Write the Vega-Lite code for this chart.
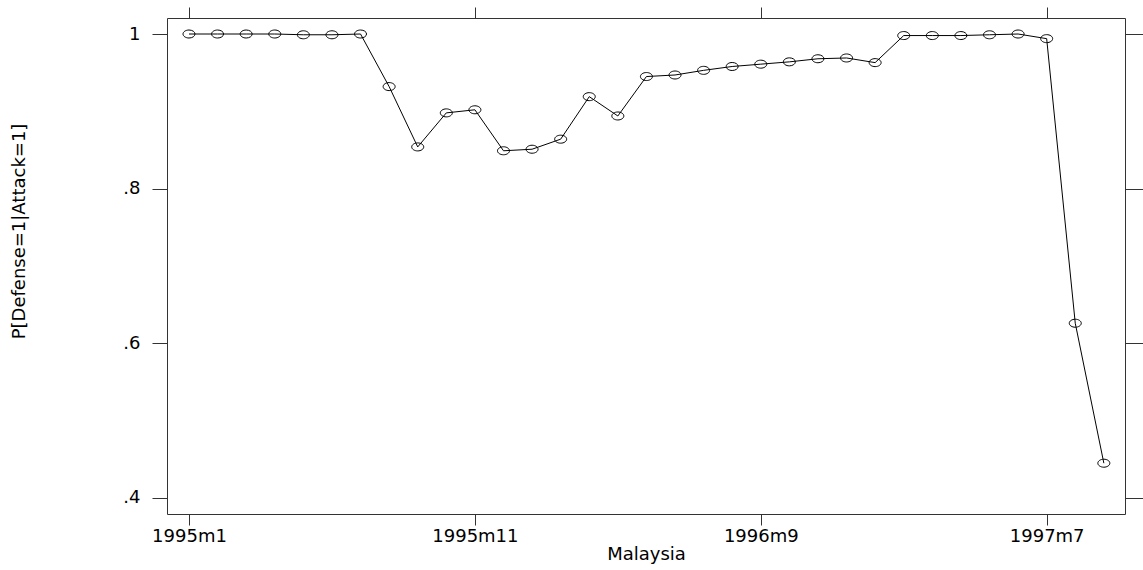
{
  "$schema": "https://vega.github.io/schema/vega-lite/v6.json",
  "autosize": "none",
  "width": 958,
  "height": 496,
  "padding": {"left": 167, "top": 18, "right": 18, "bottom": 56},
  "background": "white",
  "config": {
    "view": {"stroke": "#333", "strokeWidth": 1},
    "font": "DejaVu Sans",
    "axis": {
      "grid": false,
      "domain": false,
      "tickColor": "#333",
      "tickWidth": 1,
      "labelColor": "black",
      "titleColor": "black",
      "labelFont": "DejaVu Sans",
      "titleFont": "DejaVu Sans",
      "labelFontWeight": "normal",
      "titleFontWeight": "normal"
    }
  },
  "data": {
    "values": [
      {"month": "1995m1", "tm": 420, "p": 1.0},
      {"month": "1995m2", "tm": 421, "p": 1.0},
      {"month": "1995m3", "tm": 422, "p": 1.0},
      {"month": "1995m4", "tm": 423, "p": 1.0},
      {"month": "1995m5", "tm": 424, "p": 0.999},
      {"month": "1995m6", "tm": 425, "p": 0.999},
      {"month": "1995m7", "tm": 426, "p": 1.0},
      {"month": "1995m8", "tm": 427, "p": 0.932},
      {"month": "1995m9", "tm": 428, "p": 0.854},
      {"month": "1995m10", "tm": 429, "p": 0.898},
      {"month": "1995m11", "tm": 430, "p": 0.902},
      {"month": "1995m12", "tm": 431, "p": 0.849},
      {"month": "1996m1", "tm": 432, "p": 0.851},
      {"month": "1996m2", "tm": 433, "p": 0.864},
      {"month": "1996m3", "tm": 434, "p": 0.919},
      {"month": "1996m4", "tm": 435, "p": 0.894},
      {"month": "1996m5", "tm": 436, "p": 0.945},
      {"month": "1996m6", "tm": 437, "p": 0.947},
      {"month": "1996m7", "tm": 438, "p": 0.953},
      {"month": "1996m8", "tm": 439, "p": 0.958},
      {"month": "1996m9", "tm": 440, "p": 0.961},
      {"month": "1996m10", "tm": 441, "p": 0.964},
      {"month": "1996m11", "tm": 442, "p": 0.968},
      {"month": "1996m12", "tm": 443, "p": 0.969},
      {"month": "1997m1", "tm": 444, "p": 0.963},
      {"month": "1997m2", "tm": 445, "p": 0.998},
      {"month": "1997m3", "tm": 446, "p": 0.998},
      {"month": "1997m4", "tm": 447, "p": 0.998},
      {"month": "1997m5", "tm": 448, "p": 0.999},
      {"month": "1997m6", "tm": 449, "p": 1.0},
      {"month": "1997m7", "tm": 450, "p": 0.994},
      {"month": "1997m8", "tm": 451, "p": 0.626},
      {"month": "1997m9", "tm": 452, "p": 0.445}
    ]
  },
  "layer": [
    {
      "mark": {"type": "line", "color": "black", "strokeWidth": 1},
      "encoding": {
        "x": {
          "field": "tm", "type": "quantitative",
          "scale": {"domain": [419.23, 452.74], "nice": false, "zero": false},
          "axis": {
            "orient": "bottom",
            "values": [420, 430, 440, 450],
            "labelExpr": "(floor(datum.value/12)+1960) + 'm' + (datum.value % 12 + 1)",
            "tickSize": 11,
            "labelFontSize": 18,
            "labelPadding": 2,
            "labelFlush": false,
            "title": "Malaysia",
            "titleFontSize": 18,
            "titleX": 479,
            "titleY": 40,
            "titleAnchor": null,
            "titleAlign": "center",
            "titleBaseline": "middle"
          }
        },
        "y": {
          "field": "p", "type": "quantitative",
          "scale": {"domain": [0.3793, 1.0207], "nice": false, "zero": false},
          "axis": {
            "orient": "left",
            "values": [0.4, 0.6, 0.8, 1],
            "labelExpr": "datum.value == 1 ? '1' : replace(format(datum.value, '.1f'), '0.', '.')",
            "tickSize": 15,
            "labelFontSize": 18,
            "labelPadding": 12,
            "labelFlush": false,
            "title": "P[Defense=1|Attack=1]",
            "titleFontSize": 18,
            "titleAngle": -90,
            "titleX": -148,
            "titleY": 213,
            "titleAlign": "center",
            "titleBaseline": "middle"
          }
        }
      }
    },
    {
      "mark": {
        "type": "point",
        "shape": "M-1,0A1,0.667,0,1,1,1,0A1,0.667,0,1,1,-1,0Z",
        "size": 144,
        "filled": false,
        "color": "black",
        "strokeWidth": 1,
        "opacity": 1
      },
      "encoding": {
        "x": {
          "field": "tm", "type": "quantitative",
          "axis": {"orient": "top", "values": [420, 430, 440, 450], "labels": false, "tickSize": 11, "title": null}
        },
        "y": {
          "field": "p", "type": "quantitative",
          "axis": {"orient": "right", "values": [0.4, 0.6, 0.8, 1], "labels": false, "tickSize": 18, "title": null}
        }
      }
    }
  ],
  "resolve": {"axis": {"x": "independent", "y": "independent"}}
}
